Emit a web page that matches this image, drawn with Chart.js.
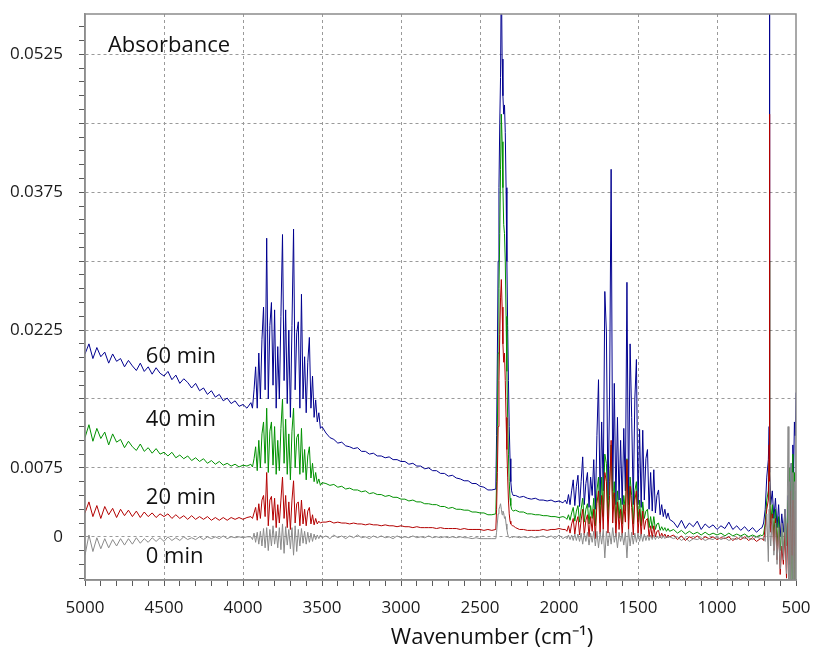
<!DOCTYPE html>
<html>
<head>
<meta charset="utf-8">
<title>Absorbance spectra</title>
<script src="https://cdn.jsdelivr.net/npm/chart.js@4.4.1/dist/chart.umd.min.js"></script>
<style>
  html, body { margin: 0; padding: 0; background: #fff; }
  canvas { display: block; }
</style>
</head>
<body>
<canvas id="spectraChart" width="819" height="653"></canvas>
<script>
// wavenumber grid (cm-1), high to low
const wavenumbers = [
  5000,4975,4950,4925,4900,4875,4850,4825,4800,4775,4750,4725,4700,4675,4650,4625,4600,4575,4550,4525,4500,4475,4450,4425,4400,4375,4350,4325,4300,4275,4250,4225,4200,4175,4150,4125,4100,4075,4050,4025,4000,3975,
  3950,3940,3930,3920,3910,3900,3890,3880,3870,3860,3850,3840,3830,3820,3810,3800,3790,3780,3770,3760,3750,3740,3730,3720,3710,3700,3690,3680,3670,3660,3650,3640,3630,3620,3610,3600,3590,3580,3570,3560,3550,3540,3530,3520,3510,3500,
  3475,3450,3425,3400,3375,3350,3325,3300,3275,3250,3225,3200,3175,3150,3125,3100,3075,3050,3025,3000,2975,2950,2925,2900,2875,2850,2825,2800,2775,2750,2725,2700,2675,2650,2625,2600,2575,2550,2525,2500,2475,2450,2425,
  2400,2395,2390,2385,2380,2375,2370,2365,2360,2355,2350,2345,2340,2335,2330,2325,2320,2315,2310,2305,2300,2295,2290,
  2275,2250,2225,2200,2175,2150,2125,2100,2075,2050,2025,2000,1975,
  1960,1950,1940,1930,1920,1910,1900,1890,1880,1870,1860,1850,1840,1830,1820,1810,1800,1790,1780,1770,1760,1750,1740,1730,1720,1710,1700,1690,1680,1670,1660,1650,1640,1630,1620,1610,1600,1590,1580,1570,1560,1550,1540,1530,1520,1510,1500,1490,1480,1470,1460,1450,1440,1430,1420,1410,1400,1390,1380,1370,1360,1350,1340,1330,1320,1310,1300,
  1275,1250,1225,1200,1175,1150,1125,1100,1075,1050,1025,1000,975,950,925,900,875,850,825,800,775,750,725,
  715,705,695,685,675,670,668,666,660,650,640,630,620,610,600,590,580,570,560,550,545,540,535,530,525,520,515,510,505,500
];

const seriesNames = ['0 min', '20 min', '40 min', '60 min'];

const abs0min = [
  -0.0020,0.0002,-0.0016,-0.0001,-0.0013,-0.0002,-0.0012,-0.0003,-0.0010,-0.0002,-0.0009,-0.0002,-0.0008,-0.0001,-0.0007,-0.0002,-0.0006,-0.0001,-0.0005,-0.0001,-0.0005,0.0000,-0.0004,-0.0001,-0.0004,0.0000,-0.0003,-0.0001,-0.0003,0.0000,-0.0003,0.0000,-0.0002,0.0000,-0.0002,0.0001,-0.0002,0.0000,-0.0001,0.0000,-0.0001,0.0000,
  0.0000,-0.0003,0.0004,-0.0006,0.0005,-0.0008,0.0006,-0.0010,0.0009,-0.0012,0.0010,-0.0015,0.0008,-0.0010,0.0012,-0.0008,0.0006,-0.0012,0.0010,-0.0014,0.0014,-0.0018,0.0011,-0.0009,0.0008,-0.0013,0.0010,-0.0020,0.0012,-0.0016,0.0008,-0.0010,0.0009,-0.0007,0.0006,-0.0008,0.0005,-0.0006,0.0004,-0.0005,0.0003,-0.0003,0.0002,-0.0002,0.0002,-0.0001,
  0.0001,-0.0002,0.0002,-0.0001,0.0001,-0.0002,0.0001,-0.0001,0.0002,-0.0001,0.0000,-0.0002,0.0001,-0.0001,0.0001,-0.0001,0.0000,-0.0002,0.0001,-0.0001,0.0000,-0.0001,0.0001,-0.0001,0.0000,-0.0001,0.0001,-0.0001,0.0000,-0.0001,0.0000,-0.0001,0.0000,-0.0001,0.0000,-0.0001,-0.0001,-0.0002,-0.0001,-0.0002,-0.0002,-0.0002,-0.0002,
  -0.0002,0.0005,0.0015,0.0025,0.0030,0.0033,0.0036,0.0030,0.0024,0.0028,0.0026,0.0020,0.0022,0.0014,0.0008,0.0003,0.0000,-0.0001,-0.0001,-0.0001,0.0000,-0.0001,0.0000,
  0.0000,-0.0001,0.0000,-0.0001,0.0000,-0.0001,0.0000,0.0001,-0.0001,0.0001,-0.0002,0.0002,-0.0002,
  0.0000,-0.0002,0.0002,-0.0003,0.0002,-0.0004,0.0003,-0.0004,0.0003,-0.0005,0.0004,-0.0008,0.0004,-0.0005,0.0005,-0.0009,0.0004,-0.0006,0.0006,-0.0010,0.0006,-0.0012,0.0005,-0.0008,0.0008,-0.0023,0.0006,-0.0010,0.0005,-0.0008,0.0010,-0.0006,0.0004,-0.0012,0.0005,-0.0005,0.0004,-0.0009,0.0005,-0.0023,0.0008,-0.0010,0.0005,-0.0008,0.0004,-0.0006,0.0004,-0.0005,0.0003,-0.0005,0.0003,-0.0004,0.0002,-0.0004,0.0002,-0.0003,0.0002,-0.0003,0.0001,-0.0002,0.0001,-0.0002,0.0001,-0.0002,0.0000,-0.0001,0.0000,
  -0.0002,0.0000,-0.0004,-0.0001,-0.0005,-0.0002,-0.0003,-0.0001,-0.0004,-0.0002,-0.0003,0.0000,-0.0003,-0.0001,-0.0004,-0.0002,-0.0003,0.0000,-0.0002,-0.0001,-0.0003,0.0000,-0.0002,
  -0.0002,-0.0001,-0.0005,0.0025,-0.0027,0.0030,0.0060,0.0010,-0.0010,0.0020,-0.0020,0.0015,-0.0030,0.0010,-0.0035,0.0015,-0.0025,0.0030,-0.0040,0.0120,-0.0060,0.0060,-0.0060,0.0080,-0.0060,0.0070,-0.0060,0.0060,-0.0060,0.0110
];

const abs20min = [
  0.0026,0.0038,0.0022,0.0034,0.0020,0.0033,0.0024,0.0031,0.0021,0.0030,0.0023,0.0029,0.0022,0.0028,0.0021,0.0027,0.0022,0.0026,0.0021,0.0025,0.0022,0.0025,0.0020,0.0024,0.0020,0.0023,0.0019,0.0023,0.0019,0.0022,0.0019,0.0022,0.0018,0.0021,0.0018,0.0021,0.0018,0.0021,0.0019,0.0021,0.0019,0.0021,
  0.0022,0.0020,0.0026,0.0032,0.0018,0.0036,0.0020,0.0040,0.0045,0.0022,0.0070,0.0012,0.0040,0.0044,0.0018,0.0042,0.0010,0.0035,0.0015,0.0040,0.0065,0.0020,0.0045,0.0010,0.0038,0.0008,0.0040,0.0061,0.0015,0.0036,0.0038,0.0012,0.0040,0.0014,0.0030,0.0012,0.0028,0.0032,0.0014,0.0024,0.0013,0.0020,0.0014,0.0017,0.0015,0.0016,
  0.0016,0.0017,0.0015,0.0016,0.0015,0.0015,0.0014,0.0015,0.0014,0.0014,0.0013,0.0014,0.0013,0.0013,0.0012,0.0013,0.0012,0.0012,0.0011,0.0012,0.0011,0.0011,0.0010,0.0011,0.0010,0.0010,0.0010,0.0010,0.0009,0.0010,0.0009,0.0009,0.0009,0.0009,0.0008,0.0009,0.0008,0.0008,0.0008,0.0008,0.0007,0.0008,0.0007,
  0.0008,0.0030,0.0070,0.0120,0.0170,0.0220,0.0260,0.0280,0.0250,0.0210,0.0190,0.0200,0.0170,0.0130,0.0095,0.0065,0.0040,0.0025,0.0017,0.0014,0.0013,0.0012,0.0012,
  0.0010,0.0008,0.0008,0.0007,0.0007,0.0007,0.0007,0.0008,0.0007,0.0008,0.0008,0.0009,0.0008,
  0.0008,0.0006,0.0012,0.0004,0.0014,0.0020,0.0003,0.0016,0.0022,0.0002,0.0018,0.0030,0.0002,0.0018,0.0024,0.0000,0.0022,0.0006,0.0030,-0.0002,0.0036,0.0050,0.0003,0.0045,0.0008,0.0070,0.0060,0.0004,0.0045,0.0105,0.0015,0.0048,0.0000,0.0038,0.0008,0.0030,0.0002,0.0035,0.0016,0.0084,0.0005,0.0055,0.0032,0.0002,0.0040,0.0050,0.0004,0.0030,0.0001,0.0028,0.0008,0.0018,0.0020,0.0000,0.0012,-0.0001,0.0012,0.0000,0.0006,0.0007,-0.0001,0.0004,0.0000,0.0003,-0.0001,0.0002,0.0000,
  0.0002,-0.0003,0.0001,-0.0004,0.0000,-0.0002,0.0001,-0.0003,0.0000,-0.0002,0.0000,-0.0003,-0.0001,-0.0002,0.0000,-0.0004,-0.0001,-0.0003,0.0000,-0.0004,-0.0001,-0.0005,-0.0002,
  -0.0002,-0.0004,0.0010,0.0030,0.0040,0.0100,0.0460,0.0040,0.0005,0.0025,-0.0015,0.0020,-0.0025,0.0010,-0.0041,-0.0010,-0.0030,0.0005,-0.0045,0.0015,-0.0030,0.0035,-0.0060,0.0050,-0.0020,0.0040,-0.0060,0.0030,-0.0010,0.0020
];

const abs40min = [
  0.0108,0.0122,0.0104,0.0118,0.0107,0.0114,0.0100,0.0112,0.0103,0.0106,0.0097,0.0104,0.0098,0.0094,0.0101,0.0093,0.0097,0.0091,0.0096,0.0090,0.0092,0.0088,0.0092,0.0086,0.0089,0.0085,0.0088,0.0083,0.0086,0.0082,0.0085,0.0080,0.0083,0.0079,0.0082,0.0078,0.0080,0.0077,0.0079,0.0076,0.0078,0.0077,
  0.0079,0.0076,0.0085,0.0098,0.0072,0.0105,0.0075,0.0112,0.0125,0.0080,0.0140,0.0070,0.0115,0.0125,0.0078,0.0120,0.0068,0.0105,0.0072,0.0118,0.0150,0.0080,0.0128,0.0068,0.0112,0.0062,0.0115,0.0140,0.0075,0.0108,0.0112,0.0068,0.0118,0.0070,0.0095,0.0062,0.0088,0.0098,0.0064,0.0080,0.0060,0.0070,0.0058,0.0063,0.0056,0.0059,
  0.0058,0.0056,0.0057,0.0054,0.0055,0.0052,0.0053,0.0051,0.0051,0.0049,0.0050,0.0047,0.0048,0.0046,0.0046,0.0044,0.0045,0.0043,0.0043,0.0041,0.0041,0.0039,0.0040,0.0038,0.0038,0.0036,0.0036,0.0035,0.0035,0.0033,0.0033,0.0031,0.0032,0.0030,0.0030,0.0029,0.0029,0.0027,0.0027,0.0026,0.0026,0.0024,0.0024,
  0.0025,0.0060,0.0120,0.0200,0.0270,0.0330,0.0400,0.0460,0.0430,0.0380,0.0340,0.0330,0.0300,0.0240,0.0180,0.0130,0.0090,0.0060,0.0042,0.0034,0.0030,0.0029,0.0028,
  0.0029,0.0027,0.0027,0.0025,0.0025,0.0024,0.0024,0.0023,0.0023,0.0022,0.0022,0.0021,0.0022,
  0.0021,0.0019,0.0024,0.0018,0.0026,0.0032,0.0017,0.0028,0.0034,0.0016,0.0030,0.0042,0.0016,0.0030,0.0036,0.0014,0.0034,0.0020,0.0042,0.0012,0.0050,0.0065,0.0015,0.0065,0.0022,0.0090,0.0080,0.0020,0.0060,0.0100,0.0030,0.0060,0.0015,0.0050,0.0020,0.0042,0.0014,0.0045,0.0028,0.0085,0.0018,0.0065,0.0045,0.0014,0.0050,0.0060,0.0016,0.0040,0.0012,0.0038,0.0020,0.0028,0.0030,0.0010,0.0022,0.0009,0.0022,0.0008,0.0014,0.0015,0.0007,0.0011,0.0007,0.0010,0.0006,0.0009,0.0006,
  0.0008,0.0004,0.0007,0.0003,0.0006,0.0003,0.0005,0.0002,0.0005,0.0002,0.0004,0.0002,0.0004,0.0001,0.0004,0.0001,0.0003,0.0001,0.0003,0.0000,0.0002,0.0000,0.0002,
  0.0001,0.0003,0.0015,0.0040,0.0050,0.0080,0.0300,0.0050,0.0015,0.0035,0.0000,0.0030,-0.0010,0.0022,-0.0015,0.0010,-0.0020,0.0020,-0.0010,0.0040,-0.0030,0.0075,-0.0050,0.0060,-0.0060,0.0090,-0.0060,0.0070,-0.0055,0.0050
];

const abs60min = [
  0.0199,0.0210,0.0194,0.0206,0.0196,0.0201,0.0189,0.0199,0.0191,0.0194,0.0185,0.0192,0.0186,0.0181,0.0189,0.0180,0.0185,0.0177,0.0184,0.0178,0.0175,0.0180,0.0171,0.0176,0.0167,0.0172,0.0168,0.0162,0.0167,0.0159,0.0162,0.0155,0.0159,0.0152,0.0155,0.0148,0.0151,0.0145,0.0148,0.0142,0.0144,0.0140,
  0.0146,0.0140,0.0160,0.0185,0.0140,0.0200,0.0150,0.0215,0.0250,0.0160,0.0325,0.0150,0.0230,0.0255,0.0165,0.0247,0.0140,0.0207,0.0150,0.0240,0.0329,0.0170,0.0247,0.0145,0.0225,0.0130,0.0230,0.0335,0.0160,0.0222,0.0234,0.0140,0.0264,0.0150,0.0196,0.0135,0.0190,0.0217,0.0140,0.0175,0.0130,0.0149,0.0125,0.0135,0.0118,0.0120,
  0.0113,0.0108,0.0106,0.0102,0.0103,0.0099,0.0098,0.0096,0.0097,0.0093,0.0093,0.0090,0.0091,0.0088,0.0088,0.0086,0.0087,0.0084,0.0084,0.0082,0.0082,0.0079,0.0080,0.0077,0.0077,0.0074,0.0075,0.0072,0.0072,0.0069,0.0069,0.0066,0.0067,0.0064,0.0063,0.0061,0.0061,0.0058,0.0058,0.0055,0.0054,0.0051,0.0051,
  0.0052,0.0110,0.0200,0.0300,0.0380,0.0450,0.0500,0.0620,0.0520,0.0480,0.0460,0.0470,0.0440,0.0380,0.0300,0.0230,0.0170,0.0120,0.0085,0.0060,0.0050,0.0047,0.0045,
  0.0045,0.0043,0.0044,0.0042,0.0041,0.0042,0.0040,0.0040,0.0039,0.0040,0.0038,0.0039,0.0037,
  0.0040,0.0036,0.0046,0.0035,0.0050,0.0062,0.0034,0.0055,0.0067,0.0033,0.0060,0.0087,0.0035,0.0058,0.0070,0.0032,0.0065,0.0045,0.0084,0.0030,0.0110,0.0171,0.0035,0.0125,0.0050,0.0267,0.0223,0.0040,0.0150,0.0400,0.0050,0.0167,0.0035,0.0130,0.0040,0.0105,0.0035,0.0118,0.0050,0.0277,0.0035,0.0210,0.0130,0.0035,0.0150,0.0193,0.0035,0.0117,0.0032,0.0116,0.0040,0.0085,0.0095,0.0030,0.0070,0.0028,0.0073,0.0026,0.0045,0.0051,0.0024,0.0035,0.0022,0.0030,0.0020,0.0026,0.0019,
  0.0016,0.0010,0.0018,0.0009,0.0015,0.0011,0.0017,0.0008,0.0014,0.0010,0.0013,0.0008,0.0012,0.0009,0.0016,0.0008,0.0012,0.0007,0.0011,0.0006,0.0010,0.0005,0.0009,
  0.0010,0.0015,0.0030,0.0065,0.0084,0.0120,0.0650,0.0070,0.0035,0.0050,0.0020,0.0042,0.0010,0.0035,0.0000,0.0025,0.0005,0.0030,-0.0010,0.0045,0.0015,-0.0020,0.0020,0.0080,0.0040,0.0100,0.0070,0.0125,0.0110,0.0157
];

const xTickLabels = [5000, 4500, 4000, 3500, 3000, 2500, 2000, 1500, 1000, 500];
const yTickLabels = [0, 0.0075, 0.0225, 0.0375, 0.0525];

[abs0min, abs20min, abs40min, abs60min].forEach((s, i) => {
  if (s.length !== wavenumbers.length) console.error(seriesNames[i], s.length, wavenumbers.length);
});

const toPoints = (values) => wavenumbers.map((wn, i) => ({x: wn, y: values[i]}));

const isMajorX = (v) => v % 500 === 0 && v !== 500 && v !== 5000;
const isMajorY = (v) => Math.abs(v / 0.0075 - Math.round(v / 0.0075)) < 1e-6;

// keep the plot box where the layout padding puts it
const noLabelOverhang = (s) => {
  s.paddingTop = 0;
  s.paddingBottom = 0;
  s.paddingLeft = 0;
  s.paddingRight = 0;
};

// frame, in-plot text and the x axis title
const annotations = {
  id: 'annotations',
  afterDraw(chart) {
    const {ctx, chartArea: a, scales: {x, y}} = chart;
    ctx.save();
    ctx.strokeStyle = '#8c8c8c';
    ctx.lineWidth = 1.5;
    ctx.strokeRect(a.left, a.top, a.right - a.left, a.bottom - a.top);

    ctx.fillStyle = '#111';
    ctx.textBaseline = 'middle';
    ctx.font = "22px 'Open Sans'";
    ctx.fillText('Absorbance', x.getPixelForValue(4855), y.getPixelForValue(0.0535));
    const spots = [[3, 0.0196], [2, 0.0127], [1, 0.0043], [0, -0.0022]];
    spots.forEach(([i, v]) => {
      ctx.fillText(seriesNames[i], x.getPixelForValue(4615), y.getPixelForValue(v));
    });

    ctx.textAlign = 'center';
    ctx.fillText('Wavenumber (cm\u207B\u00B9)', x.getPixelForValue(2424), a.bottom + 58);
    ctx.restore();
  }
};

Chart.defaults.font.family = "'Open Sans', sans-serif";

const colors = ['#8a8a8a', '#b30000', '#009100', '#00008f'];

const chart = new Chart(document.getElementById('spectraChart').getContext('2d'), {
  type: 'line',
  data: {
    datasets: [abs0min, abs20min, abs40min, abs60min].map((vals, i) => ({
      label: seriesNames[i],
      data: toPoints(vals),
      borderColor: colors[i],
      borderWidth: 1,
      pointRadius: 0,
      tension: 0,
      fill: false
    }))
  },
  options: {
    responsive: false,
    animation: false,
    devicePixelRatio: 1,
    layout: {padding: {left: 0, right: 23, top: 14, bottom: 0}},
    plugins: {
      legend: {display: false},
      tooltip: {enabled: false}
    },
    scales: {
      x: {
        type: 'linear',
        reverse: true,
        min: 500,
        max: 5000,
        afterFit: (s) => { s.height = 73; noLabelOverhang(s); },
        ticks: {
          stepSize: 100,
          autoSkip: false,
          maxRotation: 0,
          padding: 12,
          color: '#1a1a1a',
          font: {size: 17},
          callback: (v) => xTickLabels.includes(v) ? String(v) : ''
        },
        grid: {
          color: (c) => c.tick && isMajorX(c.tick.value) ? '#9a9a9a' : 'rgba(0,0,0,0)',
          tickColor: '#5a5a5a',
          tickLength: 6,
          lineWidth: 1
        },
        border: {color: '#8c8c8c', width: 1.5, dash: [3, 3]}
      },
      y: {
        min: -0.0047,
        max: 0.0569,
        afterFit: (s) => { s.width = 85; noLabelOverhang(s); },
        ticks: {
          stepSize: 0.0015,
          includeBounds: false,
          autoSkip: false,
          padding: 16,
          color: '#1a1a1a',
          font: {size: 17},
          callback: (v) => {
            const hit = yTickLabels.find((t) => Math.abs(t - v) < 1e-7);
            return hit === undefined ? '' : String(hit);
          }
        },
        grid: {
          color: (c) => c.tick && isMajorY(c.tick.value) ? '#9a9a9a' : 'rgba(0,0,0,0)',
          tickColor: '#5a5a5a',
          tickLength: 6,
          lineWidth: 1
        },
        border: {color: '#8c8c8c', width: 1.5, dash: [3, 3]}
      }
    }
  },
  plugins: [annotations]
});
</script>
</body>
</html>
